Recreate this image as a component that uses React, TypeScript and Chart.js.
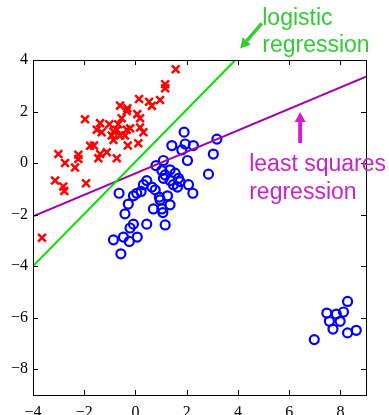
import React, { useEffect, useRef } from "react";
import { Chart, registerables } from "chart.js";

Chart.register(...registerables);

// Class A (red crosses)
const redX = [1.57, 1.16, 1.16, 0.14, 0.53, 0.96, 0.64, -0.6, -0.32, -0.34, 0.07, -1.97, -0.54, 0.18, -1.38, -1.02, -0.67, -1.51, -1.32, -0.86, -0.73, -0.34, -0.21, 0.18, 0.31, -0.93, -0.6, -0.41, -0.86, -1.77, -1.62, -0.3, 0.11, -1.38, -1.12, -3.01, -2.23, -2.23, -1.45, -0.73, -2.75, -2.36, -3.14, -2.82, -2.78, -1.93, -3.65];
const redY = [3.64, 3.06, 2.9, 2.49, 2.38, 2.45, 2.22, 2.23, 2.13, 2.02, 1.9, 1.7, 1.74, 1.74, 1.55, 1.51, 1.51, 1.29, 1.2, 1.22, 1.29, 1.29, 1.35, 1.38, 1.2, 1.07, 1.07, 1.07, 0.9, 0.67, 0.68, 0.68, 0.77, 0.35, 0.42, 0.35, 0.32, 0.16, 0.19, 0.19, 0.0, -0.17, -0.68, -0.91, -1.08, -0.78, -2.9];

// Class B (blue circles)
const blueX = [1.9, 3.18, 1.42, 1.94, 2.26, 1.81, 3.04, 2.03, 1.09, 0.8, 1.35, 1.03, 1.16, 1.55, 1.68, 2.85, 1.09, 1.35, 1.48, 1.74, 1.64, 2.07, 2.24, 0.44, 0.31, 0.64, 0.77, 0.22, 0.05, -0.08, -0.64, -0.28, 0.93, 1.25, 0.96, 1.35, 0.7, 1.03, 1.07, -0.41, 1.16, 0.44, -0.08, -0.21, 0.07, -0.47, -0.86, -0.24, -0.57, 8.28, 7.47, 7.84, 8.12, 7.57, 7.99, 7.71, 8.28, 8.62, 6.98];
const blueY = [1.2, 0.93, 0.68, 0.74, 0.68, 0.51, 0.35, 0.1, 0.1, -0.1, -0.26, -0.29, -0.46, -0.39, -0.59, -0.43, -0.59, -0.68, -0.84, -0.72, -0.93, -0.84, -1.17, -0.68, -0.84, -0.93, -1.04, -1.1, -1.17, -1.27, -1.17, -1.59, -1.32, -1.27, -1.43, -1.62, -1.78, -1.78, -1.92, -1.97, -2.4, -2.37, -2.37, -2.52, -2.87, -2.87, -2.98, -3.04, -3.52, -5.37, -5.82, -5.86, -5.78, -6.14, -6.14, -6.44, -6.59, -6.49, -6.85];

// Decision boundaries (endpoints)
const logisticX = [-4, 3.9];
const logisticY = [-4, 4];
const lsqX = [-4, 9];
const lsqY = [-2.07, 3.35];

// Axis ticks
const xTicks = [-4, -2, 0, 2, 4, 6, 8];
const yTicks = [-8, -6, -4, -2, 0, 2, 4];

// Annotations
const greenLabel = ["logistic", "regression"];
const magentaLabel = ["least squares", "regression"];

const GREEN_TEXT = "#33cc33";
const GREEN_LINE = "#00e000";
const MAGENTA_TEXT = "#cc22cc";
const PURPLE_LINE = "#a000b0";

function drawArrow(ctx: CanvasRenderingContext2D, x1: number, y1: number, x2: number, y2: number, color: string, shaftW: number) {
  const dx = x2 - x1, dy = y2 - y1;
  const len = Math.hypot(dx, dy);
  const ux = dx / len, uy = dy / len;
  const headL = 10, headW = 5.5;
  const bx = x2 - ux * headL, by = y2 - uy * headL;
  ctx.save();
  ctx.strokeStyle = color;
  ctx.fillStyle = color;
  ctx.lineWidth = shaftW;
  ctx.beginPath();
  ctx.moveTo(x1, y1);
  ctx.lineTo(bx, by);
  ctx.stroke();
  ctx.beginPath();
  ctx.moveTo(x2, y2);
  ctx.lineTo(bx - uy * headW, by + ux * headW);
  ctx.lineTo(bx + uy * headW, by - ux * headW);
  ctx.closePath();
  ctx.fill();
  ctx.restore();
}

const framePlugin = {
  id: "frame",
  afterDraw(chart: any) {
    const { ctx, chartArea: a, scales } = chart;
    const xs = scales.x, ys = scales.y;
    ctx.save();
    ctx.strokeStyle = "#000";
    ctx.lineWidth = 1;
    ctx.strokeRect(Math.round(a.left) + 0.5, Math.round(a.top) + 0.5, Math.round(a.right - a.left), Math.round(a.bottom - a.top));
    const tl = 5;
    ctx.beginPath();
    xTicks.forEach((v) => {
      const px = Math.round(xs.getPixelForValue(v)) + 0.5;
      ctx.moveTo(px, a.bottom);
      ctx.lineTo(px, a.bottom - tl);
      ctx.moveTo(px, a.top);
      ctx.lineTo(px, a.top + tl);
    });
    yTicks.forEach((v) => {
      const py = Math.round(ys.getPixelForValue(v)) + 0.5;
      ctx.moveTo(a.left, py);
      ctx.lineTo(a.left + tl, py);
      ctx.moveTo(a.right, py);
      ctx.lineTo(a.right - tl, py);
    });
    ctx.stroke();
    ctx.restore();

    const X = (v: number) => xs.getPixelForValue(v);
    const Y = (v: number) => ys.getPixelForValue(v);
    ctx.save();
    ctx.font = "23px 'Liberation Sans', Arial, sans-serif";
    ctx.textAlign = "left";
    ctx.textBaseline = "alphabetic";
    ctx.fillStyle = GREEN_TEXT;
    ctx.fillText(greenLabel[0], X(4.95), Y(5.36));
    ctx.fillText(greenLabel[1], X(4.95), Y(4.31));
    ctx.fillStyle = MAGENTA_TEXT;
    ctx.fillText(magentaLabel[0], X(4.44), Y(-0.3));
    ctx.fillText(magentaLabel[1], X(4.44), Y(-1.38));
    ctx.restore();
    drawArrow(ctx, X(4.93), Y(5.42), X(4.09), Y(4.45), GREEN_TEXT, 3.5);
    drawArrow(ctx, X(6.43), Y(0.78), X(6.43), Y(1.98), MAGENTA_TEXT, 4);
  },
};

export default function App() {
  const ref = useRef<HTMLCanvasElement>(null);
  useEffect(() => {
    if (!ref.current) return;
    const minus = (v: any) => String(v).replace("-", "\u2212");
    const tickFont = { family: "'Liberation Serif', 'Times New Roman', serif", size: 16 };
    const chart = new Chart(ref.current, {
      type: "scatter",
      data: {
        datasets: [
          {
            label: "logistic regression",
            data: logisticX.map((x, i) => ({ x, y: logisticY[i] })),
            showLine: true,
            borderColor: GREEN_LINE,
            borderWidth: 2,
            pointRadius: 0,
          },
          {
            label: "least squares regression",
            data: lsqX.map((x, i) => ({ x, y: lsqY[i] })),
            showLine: true,
            borderColor: PURPLE_LINE,
            borderWidth: 2,
            pointRadius: 0,
          },
          {
            label: "class 1",
            data: redX.map((x, i) => ({ x, y: redY[i] })),
            pointStyle: "crossRot",
            pointRadius: 5.5,
            borderColor: "#ff0000",
            backgroundColor: "#ff0000",
            pointBorderWidth: 2.5,
          },
          {
            label: "class 2",
            data: blueX.map((x, i) => ({ x, y: blueY[i] })),
            pointStyle: "circle",
            pointRadius: 4.5,
            borderColor: "#0000ff",
            backgroundColor: "rgba(0,0,0,0)",
            pointBorderWidth: 2.2,
          },
        ],
      },
      options: {
        responsive: false,
        animation: false,
        devicePixelRatio: 1,
        layout: { padding: { top: 60, right: 23, left: 0, bottom: 0 } },
        plugins: { legend: { display: false }, tooltip: { enabled: false } },
        scales: {
          x: {
            type: "linear",
            min: -4,
            max: 9,
            grid: { display: false, drawTicks: false },
            border: { display: false },
            afterBuildTicks: (s: any) => {
              s.ticks = xTicks.map((v) => ({ value: v }));
            },
            afterFit: (s: any) => {
              s.height = 20;
            },
            ticks: {
              color: "#000",
              padding: 8,
              maxRotation: 0,
              autoSkip: false,
              font: tickFont,
              callback: minus,
            },
          },
          y: {
            type: "linear",
            min: -9,
            max: 4,
            grid: { display: false, drawTicks: false },
            border: { display: false },
            afterBuildTicks: (s: any) => {
              s.ticks = yTicks.map((v) => ({ value: v }));
            },
            afterFit: (s: any) => {
              s.width = 33;
            },
            ticks: {
              color: "#000",
              padding: 5,
              autoSkip: false,
              font: tickFont,
              callback: minus,
            },
          },
        },
      },
      plugins: [framePlugin],
    });
    return () => chart.destroy();
  }, []);
  return (
    <div style={{ position: "fixed", left: 0, top: 0, width: 389, height: 415, background: "#fff" }}>
      <canvas ref={ref} width={389} height={415} style={{ display: "block" }} />
    </div>
  );
}
